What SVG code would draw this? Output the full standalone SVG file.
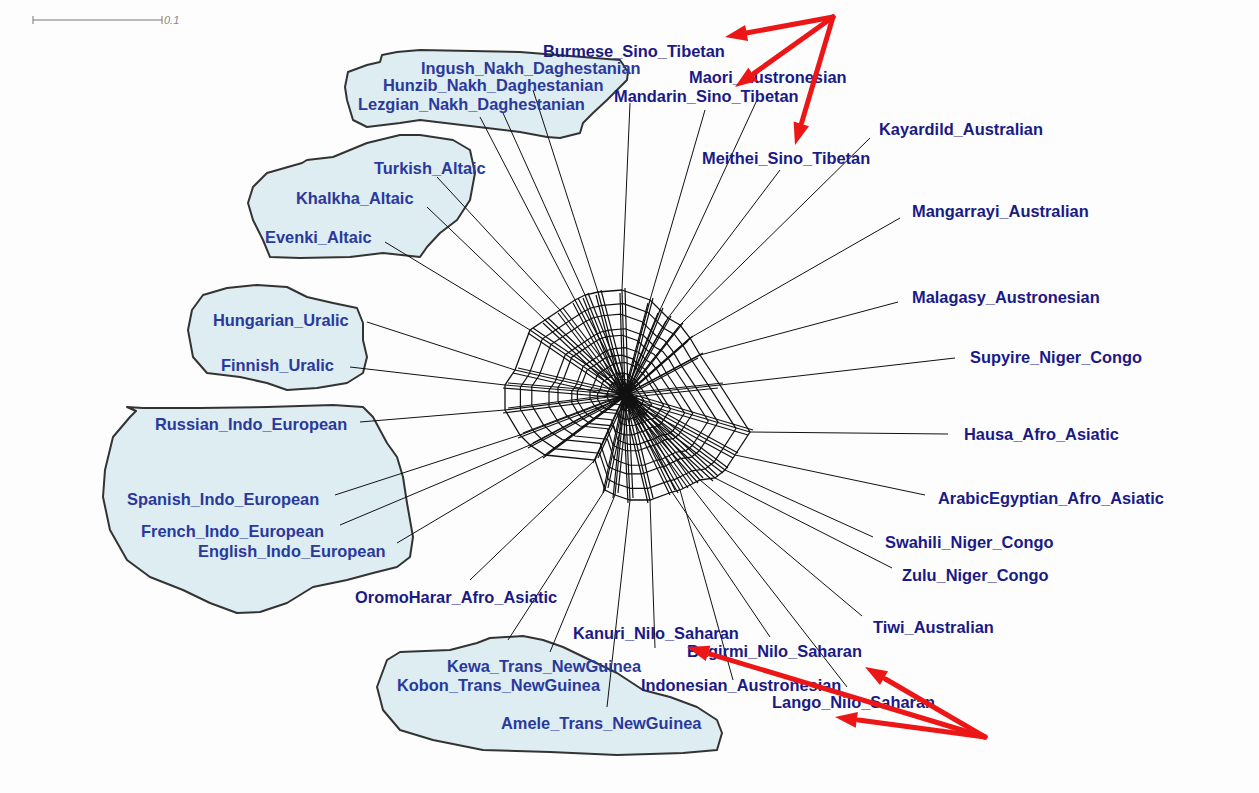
<svg xmlns="http://www.w3.org/2000/svg" xmlns:xlink="http://www.w3.org/1999/xlink" width="1259" height="793" viewBox="0 0 1259 793">
<style>
.lbl{font-family:"Liberation Sans",Arial,sans-serif;font-weight:bold;font-size:16.4px;fill:#1a1a86}
.lbl2{font-family:"Liberation Sans",Arial,sans-serif;font-weight:bold;font-size:16.4px;fill:#2a399b}
.blob{fill:#deedf2;stroke:#333;stroke-width:2;stroke-linejoin:round}
.leaf{stroke:#111;stroke-width:1;fill:none}
.spoke{stroke:#111;stroke-width:1.2;fill:none}
.ring{fill:none;stroke:#111}
.red{stroke:#ec1616;stroke-width:5;fill:none;stroke-linecap:round}
.head{fill:#ec1616}
</style>
<defs>
<polygon id="ring" points="622,290 650,300 660,310 668,318 680,325 690,338 700,355 720,385 750,432 735,455 725,470 715,478 700,480 690,485 680,490 672,492 650,500 630,500 615,495 605,490 595,460 545,455 530,445 520,435 505,410 505,385 515,370 530,330 545,320 560,310 575,300 585,295 598,292"/>
<path id="spokes" d="M622,290L625,395M650,300L625,395M660,310L625,395M668,318L625,395M680,325L625,395M690,338L625,395M700,355L625,395M720,385L625,395M750,432L625,395M735,455L625,395M725,470L625,395M715,478L625,395M700,480L625,395M690,485L625,395M680,490L625,395M672,492L625,395M650,500L625,395M630,500L625,395M615,495L625,395M605,490L625,395M595,460L625,395M545,455L625,395M530,445L625,395M520,435L625,395M505,410L625,395M505,385L625,395M515,370L625,395M530,330L625,395M545,320L625,395M560,310L625,395M575,300L625,395M585,295L625,395M598,292L625,395"/>
</defs>
<rect width="1259" height="793" fill="#fdfdfd"/>

<g id="scale">
<line x1="33" y1="20" x2="162" y2="20" stroke="#777" stroke-width="1"/>
<line x1="33" y1="16" x2="33" y2="24" stroke="#777" stroke-width="1"/>
<line x1="162" y1="16" x2="162" y2="24" stroke="#777" stroke-width="1"/>
<text x="164" y="24" font-family="Liberation Sans, Arial, sans-serif" font-style="italic" font-size="11" fill="#888">0.1</text>
</g>

<g id="clusters">
<path class="blob" d="M420,50 L397,52 L382,55 L380,62 L367,65 L348,72 L345,87 L347,100 L353,120 L367,127 L400,123 L420,120 L520,132 L547,137 L560,138 L580,133 L583,123 L593,113 L607,100 L627,80 L628,72 L620,60 L520,52 Z"/>
<path class="blob" d="M420,135 L400,135 L367,143 L333,157 L307,160 L302,163 L267,173 L253,187 L248,203 L253,220 L263,240 L270,257 L300,258 L350,257 L383,253 L420,257 L427,247 L440,233 L457,220 L470,200 L475,173 L470,150 L453,140 Z"/>
<path class="blob" d="M203,295 L227,288 L257,285 L287,287 L307,297 L333,303 L357,308 L363,323 L363,340 L367,357 L363,373 L347,383 L317,388 L287,390 L267,383 L240,377 L207,373 L193,357 L188,330 L192,310 Z"/>
<path class="blob" d="M127,407 L136,411 L130,417 L113,437 L105,470 L103,497 L110,530 L127,560 L150,577 L183,590 L210,603 L237,613 L260,612 L287,603 L313,587 L347,580 L373,573 L397,567 L410,557 L413,537 L407,503 L403,477 L397,457 L387,443 L373,417 L363,407 L333,405 L267,407 L200,408 L143,408 Z"/>
<path class="blob" d="M490,638 L523,636 L543,640 L563,647 L590,660 L617,673 L643,690 L670,697 L697,707 L717,720 L722,733 L717,750 L683,753 L617,755 L550,752 L483,750 L433,740 L400,730 L383,710 L377,687 L387,660 L400,652 L450,650 L477,643 Z"/>
</g>

<g id="connectors">
<g id="leaf-edges">
<line class="leaf" x1="630" y1="103" x2="622" y2="290"/>
<line class="leaf" x1="705" y1="110" x2="650" y2="300"/>
<line class="leaf" x1="757" y1="100" x2="660" y2="310"/>
<line class="leaf" x1="780" y1="170" x2="668" y2="318"/>
<line class="leaf" x1="870" y1="138" x2="680" y2="325"/>
<line class="leaf" x1="900" y1="218" x2="690" y2="338"/>
<line class="leaf" x1="898" y1="302" x2="700" y2="355"/>
<line class="leaf" x1="955" y1="358" x2="720" y2="385"/>
<line class="leaf" x1="948" y1="434" x2="750" y2="432"/>
<line class="leaf" x1="925" y1="495" x2="735" y2="455"/>
<line class="leaf" x1="873" y1="537" x2="725" y2="470"/>
<line class="leaf" x1="892" y1="568" x2="715" y2="478"/>
<line class="leaf" x1="862" y1="616" x2="700" y2="480"/>
<line class="leaf" x1="847" y1="687" x2="690" y2="485"/>
<line class="leaf" x1="733" y1="680" x2="680" y2="490"/>
<line class="leaf" x1="770" y1="637" x2="672" y2="492"/>
<line class="leaf" x1="655" y1="648" x2="650" y2="500"/>
<line class="leaf" x1="607" y1="707" x2="630" y2="500"/>
<line class="leaf" x1="550" y1="652" x2="615" y2="495"/>
<line class="leaf" x1="508" y1="640" x2="605" y2="490"/>
<line class="leaf" x1="470" y1="580" x2="595" y2="460"/>
<line class="leaf" x1="397" y1="543" x2="545" y2="455"/>
<line class="leaf" x1="340" y1="525" x2="530" y2="445"/>
<line class="leaf" x1="335" y1="495" x2="520" y2="435"/>
<line class="leaf" x1="360" y1="422" x2="505" y2="410"/>
<line class="leaf" x1="350" y1="367" x2="505" y2="385"/>
<line class="leaf" x1="367" y1="322" x2="515" y2="370"/>
<line class="leaf" x1="385" y1="242" x2="530" y2="330"/>
<line class="leaf" x1="427" y1="207" x2="545" y2="320"/>
<line class="leaf" x1="437" y1="177" x2="560" y2="310"/>
<line class="leaf" x1="480" y1="117" x2="575" y2="300"/>
<line class="leaf" x1="503" y1="113" x2="585" y2="295"/>
<line class="leaf" x1="533" y1="90" x2="598" y2="292"/>
</g>
<g id="web">
<use xlink:href="#spokes" class="spoke"/>
<use xlink:href="#spokes" class="spoke" transform="translate(3 -2)"/>
<use xlink:href="#spokes" class="spoke" transform="translate(-2 3)"/>
<use xlink:href="#ring" class="ring" stroke-width="1.3"/>
<use xlink:href="#ring" class="ring" stroke-width="1.36" transform="translate(626 396) scale(0.88) translate(-625 -395)"/>
<use xlink:href="#ring" class="ring" stroke-width="1.58" transform="translate(623 394) scale(0.76) translate(-625 -395)"/>
<use xlink:href="#ring" class="ring" stroke-width="1.85" transform="translate(627 397) scale(0.65) translate(-625 -395)"/>
<use xlink:href="#ring" class="ring" stroke-width="2.2" transform="translate(624 393) scale(0.55) translate(-625 -395)"/>
<use xlink:href="#ring" class="ring" stroke-width="2.6" transform="translate(627 396) scale(0.46) translate(-625 -395)"/>
<use xlink:href="#ring" class="ring" stroke-width="3.2" transform="translate(623 395) scale(0.38) translate(-625 -395)"/>
<use xlink:href="#ring" class="ring" stroke-width="4" transform="translate(626 394) scale(0.30) translate(-625 -395)"/>
<use xlink:href="#ring" class="ring" stroke-width="5.4" transform="translate(624 396) scale(0.22) translate(-625 -395)"/>
<use xlink:href="#ring" class="ring" stroke-width="8" transform="translate(625 395) scale(0.15) translate(-625 -395)"/>
</g>
</g>

<g id="n-burmese"><text class="lbl" x="543" y="57">Burmese_Sino_Tibetan</text></g>
<g id="n-ingush"><text class="lbl2" x="421" y="74">Ingush_Nakh_Daghestanian</text></g>
<g id="n-hunzib"><text class="lbl2" x="383" y="91">Hunzib_Nakh_Daghestanian</text></g>
<g id="n-lezgian"><text class="lbl2" x="358" y="110">Lezgian_Nakh_Daghestanian</text></g>
<g id="n-maori"><text class="lbl" x="689" y="83">Maori_Austronesian</text></g>
<g id="n-mandarin"><text class="lbl" x="614" y="102">Mandarin_Sino_Tibetan</text></g>
<g id="n-kayardild"><text class="lbl" x="879" y="135">Kayardild_Australian</text></g>
<g id="n-meithei"><text class="lbl" x="702" y="164">Meithei_Sino_Tibetan</text></g>
<g id="n-turkish"><text class="lbl2" x="374" y="174">Turkish_Altaic</text></g>
<g id="n-khalkha"><text class="lbl2" x="296" y="204">Khalkha_Altaic</text></g>
<g id="n-evenki"><text class="lbl2" x="265" y="243">Evenki_Altaic</text></g>
<g id="n-mangarrayi"><text class="lbl" x="912" y="217">Mangarrayi_Australian</text></g>
<g id="n-malagasy"><text class="lbl" x="912" y="303">Malagasy_Austronesian</text></g>
<g id="n-hungarian"><text class="lbl2" x="213" y="326">Hungarian_Uralic</text></g>
<g id="n-finnish"><text class="lbl2" x="221" y="371">Finnish_Uralic</text></g>
<g id="n-supyire"><text class="lbl" x="970" y="363">Supyire_Niger_Congo</text></g>
<g id="n-russian"><text class="lbl2" x="155" y="430">Russian_Indo_European</text></g>
<g id="n-hausa"><text class="lbl" x="964" y="440">Hausa_Afro_Asiatic</text></g>
<g id="n-arabic"><text class="lbl" x="938" y="504">ArabicEgyptian_Afro_Asiatic</text></g>
<g id="n-spanish"><text class="lbl2" x="127" y="505">Spanish_Indo_European</text></g>
<g id="n-french"><text class="lbl2" x="141" y="537">French_Indo_European</text></g>
<g id="n-english"><text class="lbl2" x="198" y="557">English_Indo_European</text></g>
<g id="n-swahili"><text class="lbl" x="885" y="548">Swahili_Niger_Congo</text></g>
<g id="n-zulu"><text class="lbl" x="902" y="581">Zulu_Niger_Congo</text></g>
<g id="n-oromo"><text class="lbl" x="355" y="603">OromoHarar_Afro_Asiatic</text></g>
<g id="n-tiwi"><text class="lbl" x="873" y="633">Tiwi_Australian</text></g>
<g id="n-kanuri"><text class="lbl" x="573" y="639">Kanuri_Nilo_Saharan</text></g>
<g id="n-bagirmi"><text class="lbl" x="687" y="657">Bagirmi_Nilo_Saharan</text></g>
<g id="n-kewa"><text class="lbl2" x="447" y="672">Kewa_Trans_NewGuinea</text></g>
<g id="n-kobon"><text class="lbl2" x="397" y="691">Kobon_Trans_NewGuinea</text></g>
<g id="n-indonesian"><text class="lbl" x="641" y="691">Indonesian_Austronesian</text></g>
<g id="n-lango"><text class="lbl" x="772" y="708">Lango_Nilo_Saharan</text></g>
<g id="n-amele"><text class="lbl2" x="501" y="729">Amele_Trans_NewGuinea</text></g>

<g id="annotations">
<line class="red" x1="833" y1="17" x2="745" y2="33.3"/>
<polygon class="head" points="725,37 745.2,25.1 748.1,40.9"/>
<line class="red" x1="833" y1="17" x2="754" y2="73.4"/>
<polygon class="head" points="735,87 748.3,67.7 757.6,80.7"/>
<line class="red" x1="833" y1="17" x2="801.6" y2="122.9"/>
<polygon class="head" points="795,145 793.6,121.6 809,126.2"/>
<line class="red" x1="985" y1="737" x2="709.5" y2="653.8"/>
<polygon class="head" points="687,647 710.4,645.7 705.8,661.1"/>
<line class="red" x1="985" y1="737" x2="885.5" y2="679"/>
<polygon class="head" points="865,667 888,671.2 880,685"/>
<line class="red" x1="985" y1="737" x2="858.5" y2="720.1"/>
<polygon class="head" points="835,717 857.9,712 855.7,727.8"/>
</g>
</svg>
